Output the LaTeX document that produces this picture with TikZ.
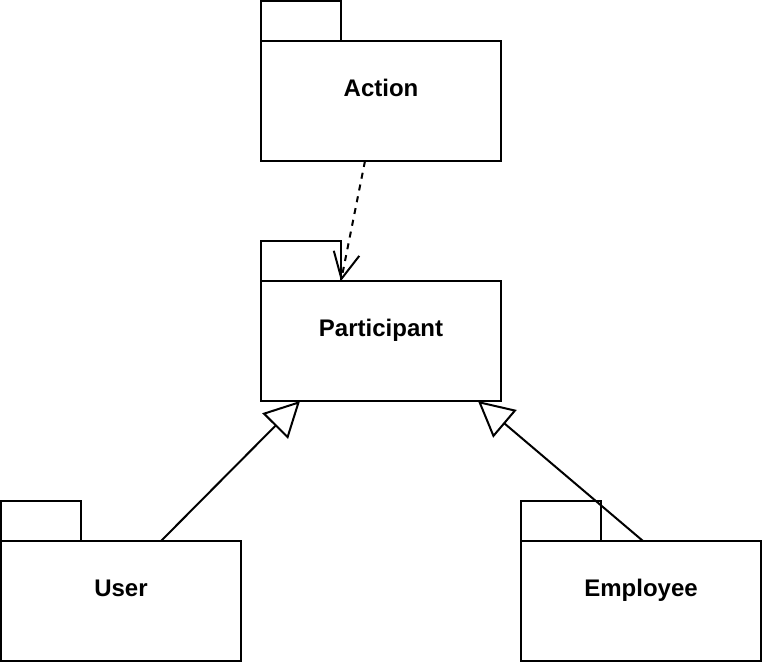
\documentclass[tikz,border=0pt]{standalone}
\usepackage{fontspec}
\setmainfont{Liberation Sans}
\usetikzlibrary{arrows.meta,positioning}
\begin{document}
\begin{tikzpicture}[x=0.75pt,y=-0.75pt,
  pkgbody/.style={draw=black,line width=1.5pt,minimum width=180pt,minimum height=90pt,inner sep=0pt,outer sep=0pt},
  pkgtab/.style={draw=black,line width=1.5pt,minimum width=60pt,minimum height=30pt,inner sep=0pt,outer sep=0pt,anchor=south west},
  pkglabel/.style={font=\bfseries\fontsize{18pt}{21pt}\selectfont,inner sep=0pt,text depth=0pt},
  dep/.style={line width=1.5pt,dash pattern=on 4.5pt off 4.5pt,-{Straight Barb[length=19.5pt,width=19.5pt,line width=1.5pt]}},
  gen/.style={line width=1.5pt,-{Triangle[open,length=26.5pt,width=27pt,line width=1.5pt]}}
]
\useasboundingbox (0,0) rectangle (762,662);
% Action
\node[pkgbody] (action) at (381,101) {};
\node[pkgtab] (actiontab) at (action.north west) {};
\node[pkglabel] (actionlbl) at ([yshift=9.75pt]action.center) {Action};
% Participant
\node[pkgbody] (part) at (381,341) {};
\node[pkgtab] (parttab) at (part.north west) {};
\node[pkglabel] (partlbl) at ([yshift=9.75pt]part.center) {Participant};
% User
\node[pkgbody] (user) at (121,601) {};
\node[pkgtab] (usertab) at (user.north west) {};
\node[pkglabel] (userlbl) at ([yshift=9.75pt]user.center) {User};
% Employee
\node[pkgbody] (emp) at (641,601) {};
\node[pkgtab] (emptab) at (emp.north west) {};
\node[pkglabel] (emplbl) at ([yshift=9.75pt]emp.center) {Employee};
% connectors
\draw[dep] ([xshift=-12pt]action.south) -- (parttab.south east);
\draw[gen] ([xshift=30pt]user.north) -- ([xshift=29.25pt]part.south west);
\draw[gen] ([xshift=1.5pt]emp.north) -- ([xshift=-17.25pt]part.south east);
\end{tikzpicture}
\end{document}
